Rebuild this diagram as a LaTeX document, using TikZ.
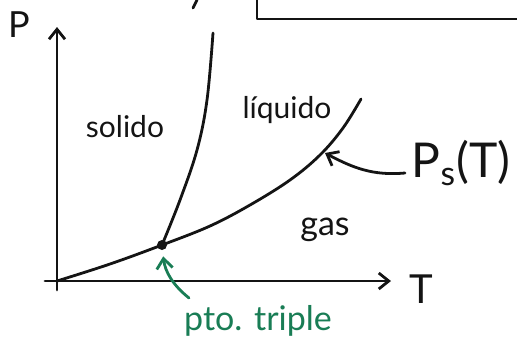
\documentclass[tikz,border=0pt]{standalone}
\usepackage{fontspec}
\setmainfont{Lato}
\usetikzlibrary{arrows.meta}
\definecolor{ink}{RGB}{20,20,20}
\definecolor{tripcol}{RGB}{25,125,85}

\begin{document}
\begin{tikzpicture}[x=0.5pt, y=-0.5pt,
  pen/.style={line width=1.4pt, draw=ink, line cap=round, line join=round},
  ar/.style={pen, -{Straight Barb[length=5pt,width=8pt]}},
  gar/.style={ar, draw=tripcol},
  phase/.style={font=\fontsize{15}{17}\selectfont, inner sep=0pt, text=ink},
  axlab/.style={font=\fontsize{18}{20}\selectfont, inner sep=0pt, text=ink},
]
  \useasboundingbox (0,0) rectangle (517,344);

  % cut-off bits of the box above
  \draw[pen] (257,0) -- (257,19) -- (517,19);
  \draw[pen] (197,0) -- (193,8);

  % axes
  \coordinate (o) at (57,281);
  \coordinate (ybot) at (57,290);
  \coordinate (ytop) at (57,27);
  \coordinate (xl) at (45,281);
  \coordinate (xr) at (391,281);
  \draw[ar] (ybot) -- (ytop);
  \draw[ar] (xl) -- (xr);
  \node[axlab] (plab) at (19,25) {P};
  \node[axlab, font=\fontsize{20}{22}\selectfont] (tlab) at (421,289) {T};

  % coexistence curves
  \node[circle, fill=ink, inner sep=0pt, minimum size=5pt] (tp) at (162,245) {};
  \coordinate (vtop) at (361,99);
  \coordinate (mtop) at (213,33);
  \draw[pen] plot[smooth, tension=0.6] coordinates
    {(o) (110,264) (162,245) (210,226) (250,205) (290,180) (320,155) (343,128) (vtop)};
  \draw[pen] plot[smooth, tension=0.6] coordinates
    {(162,245) (180,200) (197,150) (207,100) (mtop)};

  % phases
  \node[phase] (sol) at (125,127) {solido};
  \node[phase] (liq) at (287,110) {líquido};
  \node[phase, font=\fontsize{17}{19}\selectfont] (gas) at (325,230) {gas};

  % P_s(T)
  \node[font=\fontsize{24}{26}\selectfont, inner sep=0pt, text=ink] (ps) at (461,163)
       {P\textsubscript{s}(T)};
  \coordinate (pstail) at (405,173);
  \coordinate (pstip) at (325,153);
  \draw[ar] (pstail) to[out=185, in=-28] (pstip);

  % triple point
  \node[font=\fontsize{17}{19}\selectfont, inner sep=0pt, text=tripcol] (trip) at (258,321)
       {pto. triple};
  \coordinate (triptail) at (189,298);
  \draw[gar, shorten >=3pt] (triptail) to[bend left=22] (tp);
\end{tikzpicture}
\end{document}
